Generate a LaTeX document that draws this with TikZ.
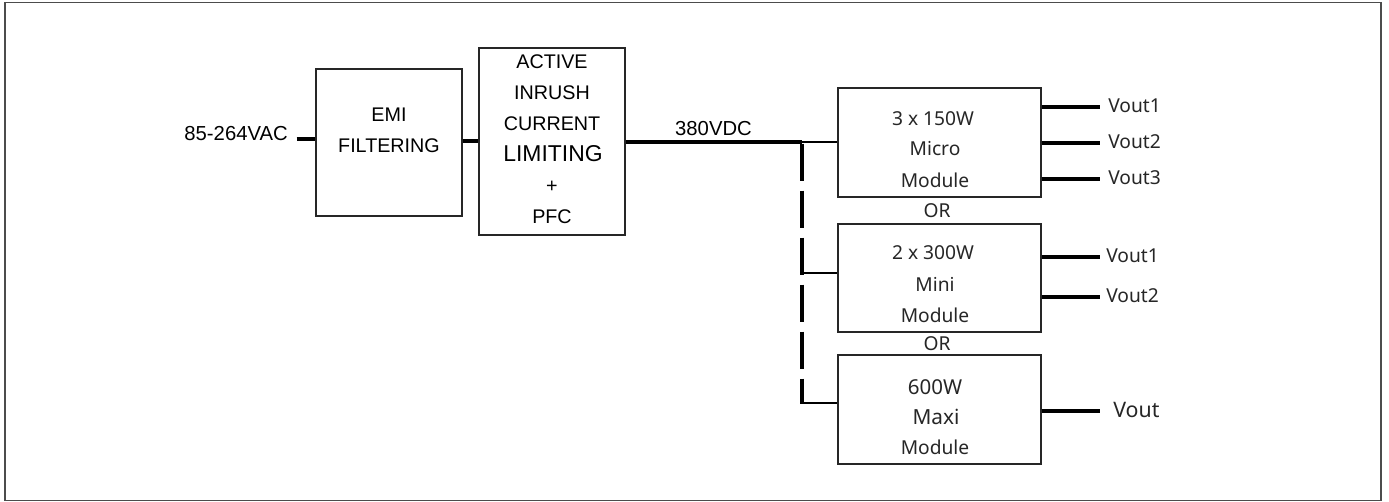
\documentclass[tikz,border=0pt]{standalone}
\usepackage{fontspec}
\setmainfont{Liberation Sans}
\newfontfamily\nsans{Noto Sans}
\usetikzlibrary{fit}
\begin{document}
\begin{tikzpicture}[x=0.75pt,y=-0.75pt,
  box/.style={draw=black!85,line width=0.9pt,inner sep=0pt,fit={#1}},
  wire/.style={line width=2.5pt,black},
  thinwire/.style={line width=1.4pt,black},
  lbl/.style={inner sep=0pt,font=\fontsize{14.8}{17}\selectfont},
  mlbl/.style={inner sep=0pt,font=\nsans\fontsize{14.4}{17}\selectfont,text=black!85},
]
\useasboundingbox (0,0) rectangle (1389,502);
\draw[black!70,line width=1.1pt] (5,2.5) rectangle (1381,500.5);

% boxes
\node[box={(316,69)(462,216)}] (emi) {};
\node[box={(479,48)(625,235)}] (act) {};
\node[box={(838,88)(1041,197)}] (micro) {};
\node[box={(838,224)(1041,332)}] (mini) {};
\node[box={(838,355)(1041,464)}] (maxi) {};

% box texts
\node[lbl] (emi1) at (389,115) {EMI};
\node[lbl] (emi2) at (389,146) {FILTERING};

\node[lbl] (act1) at (552,62) {ACTIVE};
\node[lbl] (act2) at (552,93) {INRUSH};
\node[lbl] (act3) at (552,124) {CURRENT};
\node[lbl,font=\fontsize{17.2}{20}\selectfont] (act4) at (553,154) {LIMITING};
\node[lbl] (act5) at (552,187) {+};
\node[lbl] (act6) at (552,217) {PFC};

\node[mlbl] (mic1) at (933,119) {3 x 150W};
\node[mlbl] (mic2) at (935,149) {Micro};
\node[mlbl] (mic3) at (935,180) {Module};

\node[mlbl] (or1) at (937,211) {OR};

\node[mlbl] (min1) at (933,253) {2 x 300W};
\node[mlbl] (min2) at (935,284) {Mini};
\node[mlbl] (min3) at (935,315) {Module};

\node[mlbl] (or2) at (937,344) {OR};

\node[mlbl,font=\nsans\fontsize{15.4}{18}\selectfont] (max1) at (935,387) {600W};
\node[mlbl,font=\nsans\fontsize{15.6}{18}\selectfont] (max2) at (936,417) {Maxi};
\node[mlbl] (max3) at (935,447) {Module};

% input
\node[lbl,anchor=east,font=\fontsize{15.2}{18}\selectfont] (vin) at (288,134) {85-264VAC};
\coordinate (inL) at (296.5,139);
\draw[wire] (inL) -- (emi.west |- inL);
\coordinate (m1) at (470,141);
\draw[wire] (emi.east |- m1) -- (act.west |- m1);

% DC bus
\node[lbl,font=\fontsize{15.2}{18}\selectfont] (vdc) at (713.5,129) {380VDC};
\coordinate (j) at (802,142);
\coordinate (jm) at (802,273);
\coordinate (jb) at (802,403);
\draw[wire] (act.east |- j) -- (j);
\draw[thinwire] (j) -- (micro.west |- j);
\draw[wire,dash pattern=on 27.75pt off 7.5pt] ([yshift=-1.2pt]j) -- (jb);
\draw[line width=1.9pt] (jm) -- (mini.west |- jm);
\draw[line width=1.9pt] ([xshift=-1.25pt]jb) -- (maxi.west |- jb);

% outputs
\node[mlbl,anchor=west] (o1) at (1108,106) {Vout1};
\node[mlbl,anchor=west] (o2) at (1108,142) {Vout2};
\node[mlbl,anchor=west] (o3) at (1108,178) {Vout3};
\draw[wire] (micro.east |- 0,107) -- ([xshift=-6pt]o1.west |- 0,107);
\draw[wire] (micro.east |- 0,143) -- ([xshift=-6pt]o2.west |- 0,143);
\draw[wire] (micro.east |- 0,179) -- ([xshift=-6pt]o3.west |- 0,179);

\node[mlbl,anchor=west] (p1) at (1106,256) {Vout1};
\node[mlbl,anchor=west] (p2) at (1106,296) {Vout2};
\draw[wire] (mini.east |- 0,257) -- ([xshift=-4.5pt]p1.west |- 0,257);
\draw[wire] (mini.east |- 0,297) -- ([xshift=-4.5pt]p2.west |- 0,297);

\node[mlbl,anchor=west,font=\nsans\fontsize{16}{18}\selectfont] (q1) at (1113,410) {Vout};
\draw[wire] (maxi.east |- 0,411) -- ([xshift=-9.75pt]q1.west |- 0,411);
\end{tikzpicture}
\end{document}
